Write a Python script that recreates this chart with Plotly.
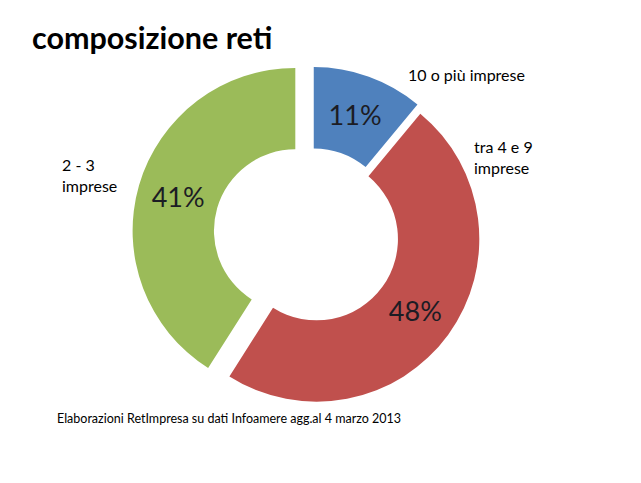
import plotly.graph_objects as go

# dati della torta
categorie = ["10 o più imprese", "tra 4 e 9 imprese", "2 - 3 imprese"]
valori = [11, 48, 41]
testi = ["11%", "48%", "41%"]
colori = ["#4F81BD", "#C0504D", "#9BBB59"]

W, H = 641, 483

fig = go.Figure(go.Pie(
    labels=categorie,
    values=valori,
    text=testi,
    textinfo="text",
    textposition="inside",
    insidetextorientation="horizontal",
    textfont=dict(family="Lato", size=27, color="#1c1c24"),
    marker=dict(colors=colori, line=dict(width=0)),
    hole=0.50,
    pull=[0.037, 0.037, 0.105],
    sort=False,
    direction="clockwise",
    rotation=0,
    showlegend=False,
    domain=dict(x=[0.2058, 0.7668], y=[0.140, 0.885]),
))

fig.add_annotation(text="composizione reti", x=30 / W, y=1 - 37 / H, xref="paper", yref="paper",
                   showarrow=False, xanchor="left", yanchor="middle",
                   font=dict(family="Lato", size=30.5, color="black", weight="bold"))

etichette = [("10 o più imprese", 406, 74), ("tra 4 e 9<br>imprese", 472, 157), ("2 - 3<br>imprese", 60, 175)]
for t, px, py in etichette:
    fig.add_annotation(text=t, x=px / W, y=1 - py / H, xref="paper", yref="paper",
                       showarrow=False, xanchor="left", yanchor="middle", align="left",
                       font=dict(family="Lato", size=16, color="black"))

fig.add_annotation(text="Elaborazioni RetImpresa su dati Infoamere agg.al 4 marzo 2013",
                   x=55 / W, y=1 - 418 / H, xref="paper", yref="paper",
                   showarrow=False, xanchor="left", yanchor="middle",
                   font=dict(family="Lato", size=12.5, color="black"))

fig.update_layout(width=W, height=H, margin=dict(l=0, r=0, t=0, b=0),
                  paper_bgcolor="white", plot_bgcolor="white")

fig.write_html("out.html", config={"displayModeBar": False},
               post_script="document.body.style.margin='0';")
